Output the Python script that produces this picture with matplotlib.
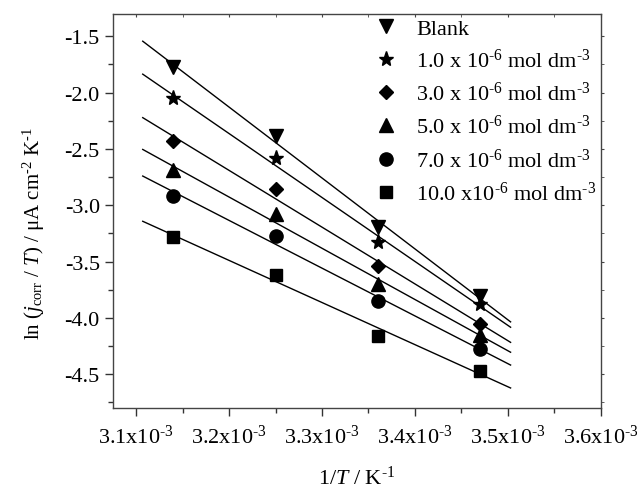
import numpy as np
import matplotlib
matplotlib.use("Agg")
import matplotlib.pyplot as plt
from matplotlib.ticker import FixedLocator, MultipleLocator

plt.rcParams['font.family'] = ['Liberation Serif', 'DejaVu Serif']
plt.rcParams['mathtext.fontset'] = 'custom'
plt.rcParams['mathtext.rm'] = 'Liberation Serif'
plt.rcParams['mathtext.it'] = 'Liberation Serif:italic'
plt.rcParams['mathtext.bf'] = 'Liberation Serif:bold'
plt.rcParams['axes.unicode_minus'] = False

# 1/T values (K^-1)
invT = [3.14e-3, 3.25e-3, 3.36e-3, 3.47e-3]

# ln(jcorr/T) for each inhibitor concentration
blank = [-1.77, -2.39, -3.19, -3.81]
c1 = [-2.05, -2.58, -3.33, -3.88]
c3 = [-2.43, -2.86, -3.54, -4.05]
c5 = [-2.69, -3.08, -3.70, -4.15]
c7 = [-2.92, -3.27, -3.85, -4.28]
c10 = [-3.28, -3.62, -4.16, -4.47]

labels = ['Blank',
          '1.0 x 10$^{\\text{-6}}$ mol dm$^{\\text{-3}}$',
          '3.0 x 10$^{\\text{-6}}$ mol dm$^{\\text{-3}}$',
          '5.0 x 10$^{\\text{-6}}$ mol dm$^{\\text{-3}}$',
          '7.0 x 10$^{\\text{-6}}$ mol dm$^{\\text{-3}}$',
          '10.0 x10$^{\\text{-6}}$ mol dm$^{\\text{-3}}$']
markers = ['v', '*', 'D', '^', 'o', 's']
sizes = [10, 11, 7.5, 10, 9.5, 8.5]

xticks = [3.1e-3, 3.2e-3, 3.3e-3, 3.4e-3, 3.5e-3, 3.6e-3]
xticklabels = ['3.1x10$^{\\text{-3}}$', '3.2x10$^{\\text{-3}}$', '3.3x10$^{\\text{-3}}$',
               '3.4x10$^{\\text{-3}}$', '3.5x10$^{\\text{-3}}$', '3.6x10$^{\\text{-3}}$']
fit_range = (3.107e-3, 3.503e-3)

fig = plt.figure(figsize=(6.37, 4.89), dpi=100)
ax = fig.add_axes([0.1774, 0.1636, 0.9430 - 0.1774, 0.970 - 0.1636])

xf = np.linspace(fit_range[0], fit_range[1], 50)
for ys, lab, m, ms in zip([blank, c1, c3, c5, c7, c10], labels, markers, sizes):
    ax.plot(invT, ys, linestyle='none', marker=m, ms=ms, color='black', label=lab)
    k, b = np.polyfit(invT, ys, 1)
    ax.plot(xf, k * xf + b, color='black', lw=1)

ax.set_xlim(3.075e-3, 3.6e-3)
ax.set_ylim(-4.8, -1.3)
ax.xaxis.set_major_locator(FixedLocator(xticks))
ax.set_xticklabels(xticklabels)
ax.xaxis.set_minor_locator(MultipleLocator(0.05e-3))
ax.yaxis.set_major_locator(MultipleLocator(0.5))
ax.yaxis.set_minor_locator(MultipleLocator(0.25))
ax.yaxis.set_major_formatter(matplotlib.ticker.FuncFormatter(lambda v, p: '%.1f' % v))

ax.tick_params(which='major', direction='out', length=6, width=1, labelsize=16, colors='#333333', labelcolor='black')
ax.tick_params(which='minor', direction='out', length=3.5, width=1, colors='#333333')
ax.tick_params(axis='x', pad=6)
for s in ax.spines.values():
    s.set_color('#444444')
    s.set_linewidth(1)

# mirrored ticks on top and right, no labels
top = ax.secondary_xaxis('top')
top.xaxis.set_major_locator(FixedLocator(xticks))
top.xaxis.set_minor_locator(MultipleLocator(0.05e-3))
top.tick_params(which='both', direction='in', length=2.5, labeltop=False, colors='#444444')
top.spines['top'].set_visible(False)
right = ax.secondary_yaxis('right')
right.yaxis.set_major_locator(MultipleLocator(0.5))
right.yaxis.set_minor_locator(MultipleLocator(0.25))
right.tick_params(which='both', direction='out', length=2.5, labelright=False, colors='#444444')
right.spines['right'].set_visible(False)

ax.set_xlabel('1/$T$ / K$^{\\text{-1}}$', fontsize=16, labelpad=13)
ax.set_ylabel('ln ($j_{\\rm corr}$ / $T$) / \u03bcA cm$^{\\text{-2}}$ K$^{\\text{-1}}$', fontsize=15)
ax.yaxis.set_label_coords(-0.135, 0.445)

ax.legend(loc='upper right', frameon=False, fontsize=16, numpoints=1,
          handlelength=1.0, handletextpad=0.85, labelspacing=0.45,
          borderaxespad=0.1, borderpad=0.1)

fig.savefig('out.png', dpi=100)
